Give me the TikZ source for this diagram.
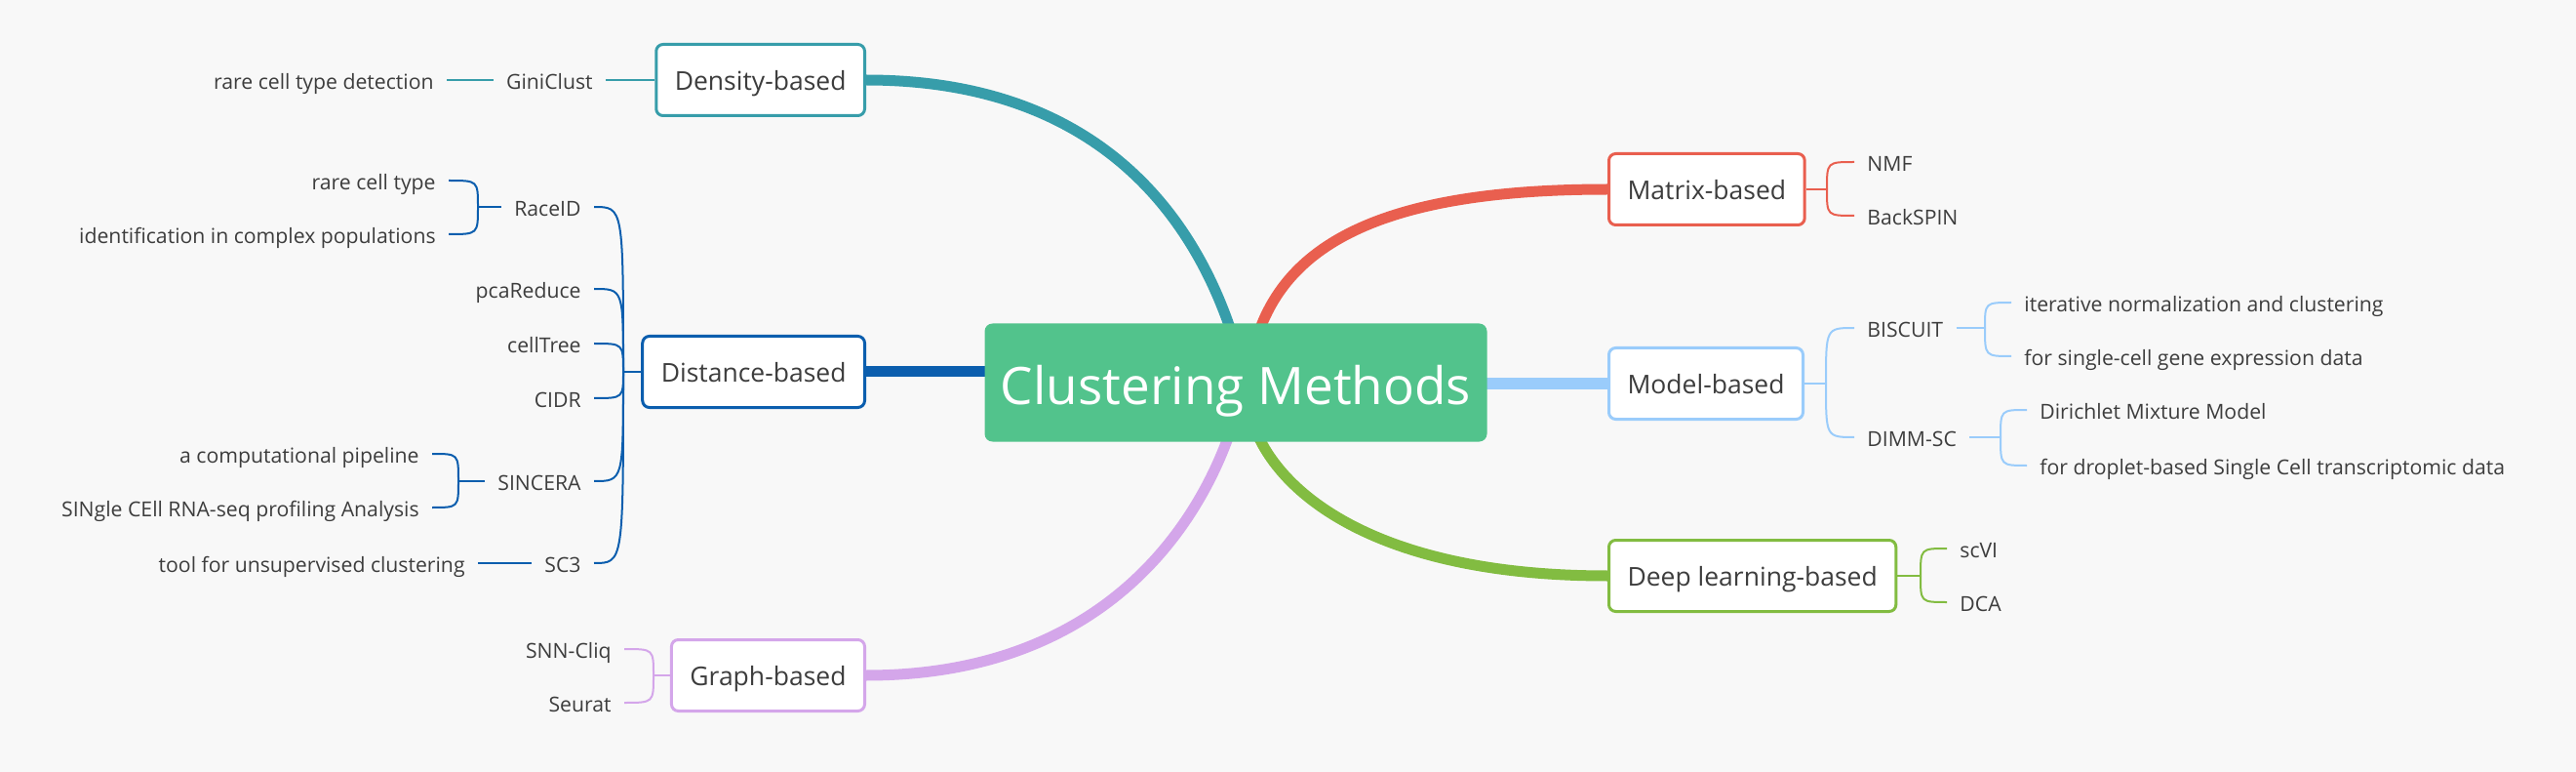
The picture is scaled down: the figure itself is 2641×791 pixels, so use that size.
\documentclass[tikz,border=0pt]{standalone}
\usepackage{fontspec}
\setmainfont{Open Sans}
\usetikzlibrary{backgrounds}

\definecolor{bgcol}{HTML}{F8F8F8}
\definecolor{txt}{HTML}{3D3D3D}
\definecolor{rootcol}{HTML}{52C38C}
\definecolor{denscol}{HTML}{379DAA}
\definecolor{distcol}{HTML}{0B5EAE}
\definecolor{graphcol}{HTML}{D4A6EA}
\definecolor{matrcol}{HTML}{E95F4F}
\definecolor{modelcol}{HTML}{9ACCFB}
\definecolor{deepcol}{HTML}{82BC41}

\tikzset{
  topic/.style={draw=#1,fill=white,line width=1.5pt,rounded corners=3.5pt,inner xsep=9.5pt,inner ysep=0pt,
    minimum height=36.5pt,text height=10.4pt,text depth=0pt,text=txt,font=\fontsize{13.25}{16}\selectfont},
  leaf/.style={inner xsep=6.5pt,inner ysep=0pt,text height=9.57pt,text depth=0pt,text=txt,
    font=\fontsize{10.6}{13}\selectfont},
  branch/.style={draw=#1,line width=5.5pt},
  twig/.style={draw=#1,line width=1pt}
}

\begin{document}
\begin{tikzpicture}
          [x=0.5pt,y=-0.5pt]

          \useasboundingbox (0,0) rectangle (2641,791);

          \node[fill=rootcol,rounded corners=4pt,minimum width=257.5pt,minimum height=60.5pt,inner sep=0pt,
            text=white,text height=22.4pt,text depth=0pt,font=\fontsize{26.5}{32}\selectfont] (root) at (1267,392) {Clustering Methods};

          % main topics
          \node[topic=denscol,anchor=east] (dens) at (888,82) {Density-based};
          \node[topic=distcol,anchor=east] (dist) at (888,381) {Distance-based};
          \node[topic=graphcol,anchor=east] (graph) at (888,692) {Graph-based};
          \node[topic=matrcol,anchor=west] (matr) at (1648,194) {Matrix-based};
          \node[topic=modelcol,anchor=west] (model) at (1648,393) {Model-based};
          \node[topic=deepcol,anchor=west] (deep) at (1648,590) {Deep learning-based};

          % left leaves
          \node[leaf,anchor=east] (gini) at (621,82) {GiniClust};
          \node[leaf,anchor=east] (rare) at (458,82) {rare cell type detection};
          \node[leaf,anchor=east] (race) at (609,212) {RaceID};
          \node[leaf,anchor=east] (raceA) at (460,185) {rare cell type};
          \node[leaf,anchor=east] (raceB) at (460,240) {identification in complex populations};
          \node[leaf,anchor=east] (pca) at (609,296) {pcaReduce};
          \node[leaf,anchor=east] (ctree) at (609,352) {cellTree};
          \node[leaf,anchor=east] (cidr) at (609,408) {CIDR};
          \node[leaf,anchor=east] (sinc) at (609,493) {SINCERA};
          \node[leaf,anchor=east] (sincA) at (443,465) {a computational pipeline};
          \node[leaf,anchor=east] (sincB) at (443,520) {SINgle CEll RNA-seq profiling Analysis};
          \node[leaf,anchor=east] (sc3) at (609,577) {SC3};
          \node[leaf,anchor=east] (sc3A) at (490,577) {tool for unsupervised clustering};
          \node[leaf,anchor=east] (snn) at (640,665) {SNN-Cliq};
          \node[leaf,anchor=east] (seurat) at (640,720) {Seurat};

          % right leaves
          \node[leaf,anchor=west] (nmf) at (1901,166) {NMF};
          \node[leaf,anchor=west] (backspin) at (1901,221) {BackSPIN};
          \node[leaf,anchor=west] (bisc) at (1901,336) {BISCUIT};
          \node[leaf,anchor=west] (biscA) at (2062,310) {iterative normalization and clustering};
          \node[leaf,anchor=west] (biscB) at (2062,365) {for single-cell gene expression data};
          \node[leaf,anchor=west] (dimm) at (1901,448) {DIMM-SC};
          \node[leaf,anchor=west] (dimmA) at (2078,420) {Dirichlet Mixture Model};
          \node[leaf,anchor=west] (dimmB) at (2078,477) {for droplet-based Single Cell transcriptomic data};
          \node[leaf,anchor=west] (scvi) at (1996,562) {scVI};
          \node[leaf,anchor=west] (dca) at (1996,617) {DCA};

          % junctions
          \coordinate (jdist) at (639,381);
          \coordinate (jrace) at (490,212);
          \coordinate (jsinc) at (470,493);
          \coordinate (jgraph) at (670,692);
          \coordinate (jmatr) at (1873,194);
          \coordinate (jmodel) at (1872,393);
          \coordinate (jbisc) at (2035,336);
          \coordinate (jdimm) at (2051,448);
          \coordinate (jdeep) at (1969,590);

          \begin{pgfonlayer}{background}
            \fill[bgcol] (0,0) rectangle (2641,791);
            \draw[branch=denscol] (dens.east) .. controls (1120,82) and (1222,215) .. (1264,345);
            \draw[branch=matrcol] (matr.west) .. controls (1418,194) and (1320,250) .. (1289,345);
            \draw[branch=graphcol] (graph.east) .. controls (1130,692) and (1228,540) .. (1262,440);
            \draw[branch=deepcol] (deep.west) .. controls (1418,590) and (1315,510) .. (1287,440);
            \draw[branch=distcol] (dist.east) -- (dist.east -| root.center);
            \draw[branch=modelcol] (model.west) -- (model.west -| root.center);
          \end{pgfonlayer}

          \draw[twig=denscol] (dens.west) -- (gini.east);
          \draw[twig=denscol] (gini.west) -- (rare.east);

          \draw[twig=distcol] (dist.west) -- (jdist);
          \draw[twig=distcol] (jdist) .. controls (jdist |- race.east) .. (race.east);
          \draw[twig=distcol] (jdist) .. controls (jdist |- pca.east) .. (pca.east);
          \draw[twig=distcol] (jdist) .. controls (jdist |- ctree.east) .. (ctree.east);
          \draw[twig=distcol] (jdist) .. controls (jdist |- cidr.east) .. (cidr.east);
          \draw[twig=distcol] (jdist) .. controls (jdist |- sinc.east) .. (sinc.east);
          \draw[twig=distcol] (jdist) .. controls (jdist |- sc3.east) .. (sc3.east);
          \draw[twig=distcol] (race.west) -- (jrace);
          \draw[twig=distcol] (jrace) .. controls (jrace |- raceA.east) .. (raceA.east);
          \draw[twig=distcol] (jrace) .. controls (jrace |- raceB.east) .. (raceB.east);
          \draw[twig=distcol] (sinc.west) -- (jsinc);
          \draw[twig=distcol] (jsinc) .. controls (jsinc |- sincA.east) .. (sincA.east);
          \draw[twig=distcol] (jsinc) .. controls (jsinc |- sincB.east) .. (sincB.east);
          \draw[twig=distcol] (sc3.west) -- (sc3A.east);

          \draw[twig=graphcol] (graph.west) -- (jgraph);
          \draw[twig=graphcol] (jgraph) .. controls (jgraph |- snn.east) .. (snn.east);
          \draw[twig=graphcol] (jgraph) .. controls (jgraph |- seurat.east) .. (seurat.east);

          \draw[twig=matrcol] (matr.east) -- (jmatr);
          \draw[twig=matrcol] (jmatr) .. controls (jmatr |- nmf.west) .. (nmf.west);
          \draw[twig=matrcol] (jmatr) .. controls (jmatr |- backspin.west) .. (backspin.west);

          \draw[twig=modelcol] (model.east) -- (jmodel);
          \draw[twig=modelcol] (jmodel) .. controls (jmodel |- bisc.west) .. (bisc.west);
          \draw[twig=modelcol] (jmodel) .. controls (jmodel |- dimm.west) .. (dimm.west);
          \draw[twig=modelcol] (bisc.east) -- (jbisc);
          \draw[twig=modelcol] (jbisc) .. controls (jbisc |- biscA.west) .. (biscA.west);
          \draw[twig=modelcol] (jbisc) .. controls (jbisc |- biscB.west) .. (biscB.west);
          \draw[twig=modelcol] (dimm.east) -- (jdimm);
          \draw[twig=modelcol] (jdimm) .. controls (jdimm |- dimmA.west) .. (dimmA.west);
          \draw[twig=modelcol] (jdimm) .. controls (jdimm |- dimmB.west) .. (dimmB.west);

          \draw[twig=deepcol] (deep.east) -- (jdeep);
          \draw[twig=deepcol] (jdeep) .. controls (jdeep |- scvi.west) .. (scvi.west);
          \draw[twig=deepcol] (jdeep) .. controls (jdeep |- dca.west) .. (dca.west);
        \end{tikzpicture}
\end{document}
